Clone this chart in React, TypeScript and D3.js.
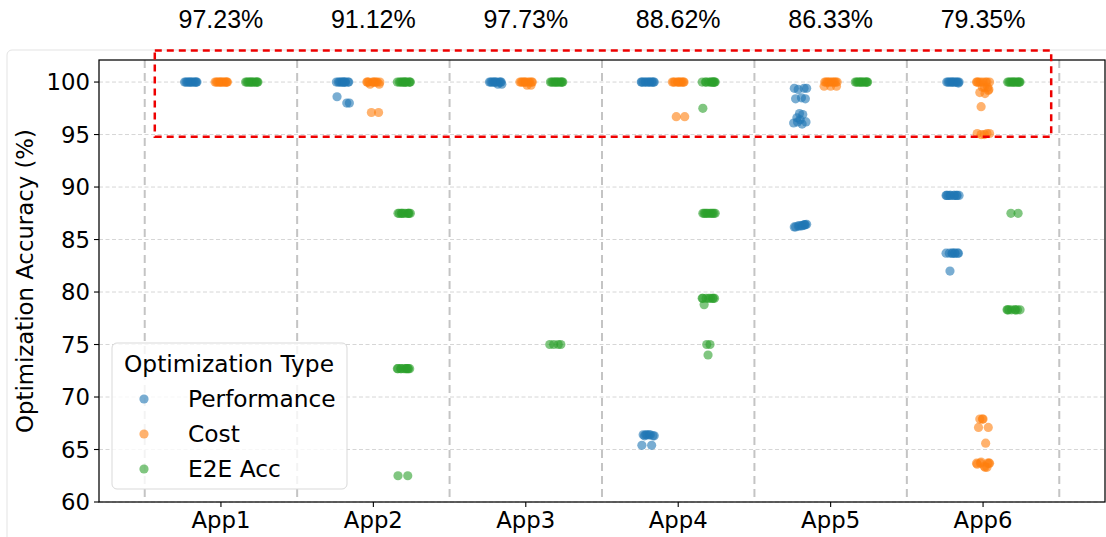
import React from "react";
import * as d3 from "d3";

// Categories, series and labels
const apps = ["App1", "App2", "App3", "App4", "App5", "App6"];
const optTypes = ["Performance", "Cost", "E2E Acc"];
const topLabels = ["97.23%", "91.12%", "97.73%", "88.62%", "86.33%", "79.35%"];
const yTicks = [60, 65, 70, 75, 80, 85, 90, 95, 100];

// Accuracy (%) of each run, one list per app
const performance: number[][] = [
  [100, 100, 100, 100, 100, 100, 100, 100, 100, 100, 100, 100],
  [98.6, 98.0, 100, 98.0, 100, 100, 100, 100, 100, 100, 100, 100, 100, 100],
  [100, 100, 100, 99.8, 100, 100, 100, 100, 99.8, 100, 100, 100],
  [65.4, 65.4, 66.4, 66.3, 66.4, 66.4, 66.3, 66.4, 66.4, 66.3,
    100, 100, 100, 100, 100, 100, 100, 100, 100, 100, 100, 100],
  [99.4, 99.4, 99.3, 99.4, 98.5, 98.4, 98.4, 97.0, 96.9, 96.6, 96.4, 96.2, 96.1, 96.0, 96.2,
    86.4, 86.2, 86.4, 86.3, 86.45, 86.3, 86.2, 86.4, 86.3, 86.35],
  [100, 100, 100, 100, 100, 100, 100, 100, 100, 100, 100, 99.9,
    89.2, 89.2, 89.2, 89.2, 89.2, 89.2, 89.2, 89.2, 89.2, 89.2,
    83.7, 83.7, 83.7, 83.7, 83.7, 83.7, 83.7, 83.7, 82.0],
];

const cost: number[][] = [
  [100, 100, 100, 100, 100, 100, 100, 100, 100, 100, 100, 100],
  [100, 100, 97.1, 100, 100, 100, 97.1, 100, 100, 99.8, 100, 99.8, 100],
  [100, 100, 100, 100, 99.7, 100, 99.7, 100, 100, 100, 100, 100],
  [100, 100, 96.7, 96.7, 100, 100, 100, 100, 100, 100, 100, 100],
  [100, 100, 100, 100, 100, 100, 100, 100, 100, 100, 99.6, 99.6, 99.6],
  [100, 100, 97.65, 100, 99.5, 100, 99.2, 99.5, 100, 99.0, 100, 99.3, 100, 98.9, 100, 99.5,
    95.1, 95.1, 95.0, 95.1, 95.0,
    67.1, 67.1, 67.9, 65.6, 67.9, 67.9,
    63.7, 63.7, 63.3, 63.7, 63.7, 63.6, 63.3, 63.8, 63.7, 63.4],
];

const e2eAcc: number[][] = [
  [100, 100, 100, 100, 100, 100, 100, 100, 100, 100, 100, 100],
  [62.5, 62.5, 100, 100, 100, 100, 100, 100, 100, 100, 100, 100, 100, 100,
    87.5, 87.5, 87.5, 87.5, 87.5, 87.5, 87.5, 87.5, 87.5, 87.5,
    72.7, 72.7, 72.7, 72.7, 72.7, 72.7, 72.7, 72.7, 72.7, 72.7],
  [100, 100, 100, 100, 100, 100, 100, 100, 100, 100, 100, 100, 75.0, 75.0, 75.0, 75.0],
  [97.5, 100, 75.0, 100, 75.0, 78.8, 100, 74.0, 100, 100, 100, 100, 100, 100, 100, 100,
    87.5, 87.5, 87.5, 87.5, 87.5, 87.5, 87.5, 87.5, 87.5, 87.5,
    79.4, 79.4, 79.4, 79.4, 79.4, 79.4, 79.4, 79.4],
  [100, 100, 100, 100, 100, 100, 100, 100, 100, 100, 100, 100],
  [100, 100, 100, 100, 100, 100, 100, 100, 100, 100, 100, 100,
    78.3, 78.3, 87.5, 87.5, 78.3, 78.3, 78.3, 78.3, 78.3, 78.3],
];

const seriesByType = [performance, cost, e2eAcc];
const colors = ["#1f77b4", "#ff7f0e", "#2ca02c"];

// Fixed strip-plot jitter pattern (fractions of the jitter half-width)
const jitterFrac = [-0.9, 0.6, -0.3, 1.0, 0.2, -0.7, 0.8, -0.1, 0.4, -0.5, 0.0, 0.9, -1.0, 0.3, -0.4, 0.7];

const W = 1106;
const H = 537;
const FONT = "DejaVu Sans, sans-serif";

export default function App() {
  const x = d3.scaleLinear().domain([-0.8, 5.8]).range([99, 1105]);
  const y = d3.scaleLinear().domain([60, 102.1]).range([502, 60]);
  const dodge = 0.2;
  const jitter = 6.5;
  const r = 4.6;

  const points: { cx: number; cy: number; color: string; key: string }[] = [];
  seriesByType.forEach((series, t) => {
    series.forEach((vals, a) => {
      const cx0 = x(a + (t - 1) * dodge);
      vals.forEach((v, i) => {
        points.push({
          cx: cx0 + jitterFrac[i % jitterFrac.length] * jitter,
          cy: y(v),
          color: colors[t],
          key: `${t}-${a}-${i}`,
        });
      });
    });
  });

  const boundaries = d3.range(-0.5, 6, 1);
  const [x0, x1] = x.range();
  const [yb, yt] = y.range();

  return (
    <svg width={W} height={H} style={{ position: "absolute", left: 0, top: 0, background: "#fff" }}>
      {/* figure frame */}
      <rect x={7} y={50} width={W} height={H} rx={5} fill="none" stroke="#e3e3e3" strokeWidth={1} />

      {/* horizontal grid */}
      {yTicks.map((t) => (
        <line key={`hg${t}`} x1={x0} x2={x1} y1={y(t)} y2={y(t)} stroke="#d6d6d6" strokeWidth={1} strokeDasharray="4,2.5" />
      ))}
      {/* category separators */}
      {boundaries.map((b) => (
        <line key={`vb${b}`} x1={x(b)} x2={x(b)} y1={yt} y2={yb} stroke="#c4c4c4" strokeWidth={2} strokeDasharray="8,5" />
      ))}

      {/* points */}
      <g>
        {points.map((p) => (
          <circle key={p.key} cx={p.cx} cy={p.cy} r={r} fill={p.color} fillOpacity={0.6} />
        ))}
      </g>

      {/* spines */}
      <rect x={x0} y={yt} width={x1 - x0} height={yb - yt} fill="none" stroke="#000" strokeWidth={1.25} />

      {/* y ticks */}
      {yTicks.map((t) => (
        <g key={`yt${t}`}>
          <line x1={x0 - 5} x2={x0} y1={y(t)} y2={y(t)} stroke="#000" strokeWidth={1.1} />
          <text x={x0 - 9} y={y(t)} dy="0.36em" textAnchor="end" fontFamily={FONT} fontSize={22.8} fill="#000">
            {t}
          </text>
        </g>
      ))}
      {/* x ticks */}
      {apps.map((a, i) => (
        <g key={`xt${a}`}>
          <line x1={x(i)} x2={x(i)} y1={yb} y2={yb + 5} stroke="#000" strokeWidth={1.1} />
          <text x={x(i)} y={528} textAnchor="middle" fontFamily={FONT} fontSize={22.8} fill="#000">
            {a}
          </text>
        </g>
      ))}

      <text transform={`translate(33,${(yt + yb) / 2}) rotate(-90)`} textAnchor="middle" fontFamily={FONT} fontSize={22.8} fill="#000">
        Optimization Accuracy (%)
      </text>

      {/* highlighted region */}
      <rect
        x={x(-0.434)}
        y={y(103)}
        width={x(5.447) - x(-0.434)}
        height={y(94.8) - y(103)}
        fill="none"
        stroke="#ee0000"
        strokeWidth={2.5}
        strokeDasharray="7,5"
      />

      {/* per-app summary */}
      {topLabels.map((l, i) => (
        <text key={`tl${i}`} x={x(i)} y={28} textAnchor="middle" fontFamily="Liberation Sans, Arial, sans-serif" fontSize={25} fill="#000">
          {l}
        </text>
      ))}

      {/* legend */}
      <g>
        <rect x={112} y={343} width={235} height={146} rx={5} fill="#fff" fillOpacity={0.8} stroke="#d9d9d9" strokeWidth={1} />
        <text x={229} y={372} textAnchor="middle" fontFamily={FONT} fontSize={23.3} fill="#000">
          Optimization Type
        </text>
        {optTypes.map((name, i) => (
          <g key={`lg${name}`}>
            <circle cx={144} cy={399 + i * 35} r={4.6} fill={colors[i]} fillOpacity={0.6} />
            <text x={188} y={407 + i * 35} fontFamily={FONT} fontSize={23.3} fill="#000">
              {name}
            </text>
          </g>
        ))}
      </g>
    </svg>
  );
}
